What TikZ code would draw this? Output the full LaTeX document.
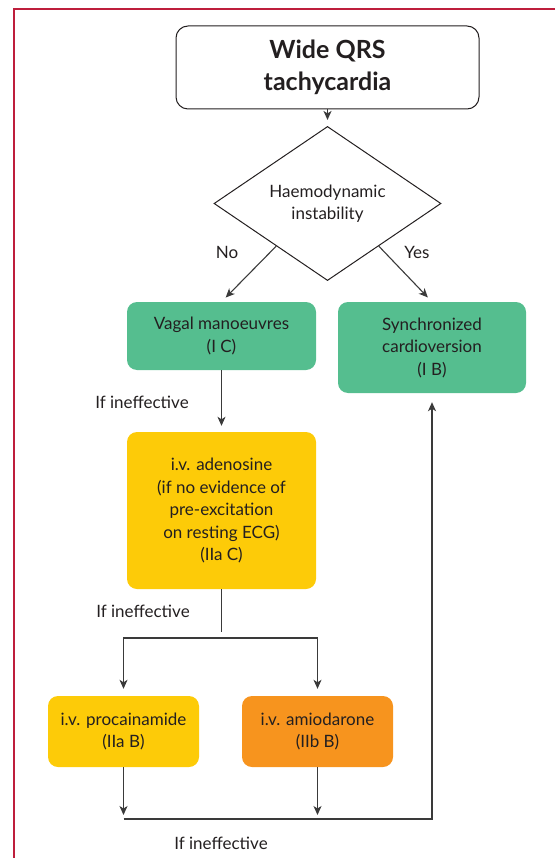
\documentclass[tikz,border=0pt]{standalone}
\usepackage{fontspec}
\setmainfont{Lato}
\usetikzlibrary{shapes.geometric,arrows.meta,calc}

\definecolor{ink}{HTML}{231F20}
\definecolor{wire}{HTML}{3A3A3A}
\definecolor{framered}{HTML}{BE1E3C}
\definecolor{classI}{HTML}{55BE8F}
\definecolor{classIIa}{HTML}{FDCB08}
\definecolor{classIIb}{HTML}{F7941E}

\begin{document}
\begin{tikzpicture}[ x=1pt, y=-1pt, >={Stealth[length=9pt,width=8pt,inset=2.5pt]},
    txt/.style={ font=\fontsize{17}{22.5}\selectfont, text=ink },
    box/.style={ txt, rounded corners=10pt, align=center, inner sep=0pt,
    minimum width=189pt }, decision/.style={ txt, diamond, draw=ink,
    line width=1pt, align=center, inner sep=0pt, minimum width=227pt,
    minimum height=105pt }, flow/.style={ draw=wire, line width=1.1pt,
    shorten >=6pt } ]
  \useasboundingbox (0,0) rectangle (555,858);
  \draw[framered, line width=2pt] (555,9) -- (14,9) -- (14,858);

  % question and first split
  \node[box, draw=ink, line width=1pt, rounded corners=12pt,
    minimum width=303pt, minimum height=83pt,
    font=\fontsize{25}{32}\selectfont\bfseries] (title) at (327.5,67.5)
    {Wide QRS\\tachycardia};
  \node[decision] (dec) at (327.5,203.5) {Haemodynamic\\instability};
  \node[box, fill=classI, minimum height=68pt] (vagal) at (221.5,336)
    {Vagal manoeuvres\\(I C)};
  \node[box, fill=classI, minimum width=188pt, minimum height=91pt] (sync)
    at (432,347.5) {Synchronized\\cardioversion\\(I B)};

  % drugs
  \node[box, fill=classIIa, minimum height=157pt] (aden) at (221.5,510.5)
    {i.v. adenosine\\(if no evidence of\\pre-excitation\\on resting ECG)\\(IIa C)};
  \node[box, fill=classIIa, minimum width=151pt, minimum height=71pt] (proc)
    at (123.5,731.5) {i.v. procainamide\\(IIa B)};
  \node[box, fill=classIIb, minimum width=151pt, minimum height=71pt] (amio)
    at (317.5,731.5) {i.v. amiodarone\\(IIb B)};

  \node[txt] (lblno) at (227,252) {No};
  \node[txt] (lblyes) at (417,252) {Yes};
  \node[txt] (fail1) at (142,402) {If ineffective};
  \node[txt] (fail2) at (143,611.5) {If ineffective};
  \node[txt] (fail3) at (221,843) {If ineffective};

  \coordinate (split) at (221.5,638);
  \coordinate (joinl) at (123.5,819);
  \coordinate (joinr) at (432,819);

  \draw[flow,->] (title) -- (dec);
  \draw[flow,->] ($(dec.west)!0.55!(dec.south)$) -- (vagal.north);
  \draw[flow,->] ($(dec.east)!0.55!(dec.south)$) -- (sync.north);
  \draw[flow,->] (vagal) -- (aden);
  \draw[flow] (aden) -- (split);
  \draw[flow,->,shorten >=7pt] (split) -| (proc.north);
  \draw[flow,->,shorten >=7pt] (split) -| (amio.north);
  \draw[flow,->,shorten >=4pt] (proc.south) -- (joinl);
  \draw[flow,->,shorten >=4pt] (amio.south) -- (amio.south |- joinl);
  \draw[flow,->,shorten >=9pt] (joinl) -- (joinr) -- (sync.south);
\end{tikzpicture}
\end{document}
